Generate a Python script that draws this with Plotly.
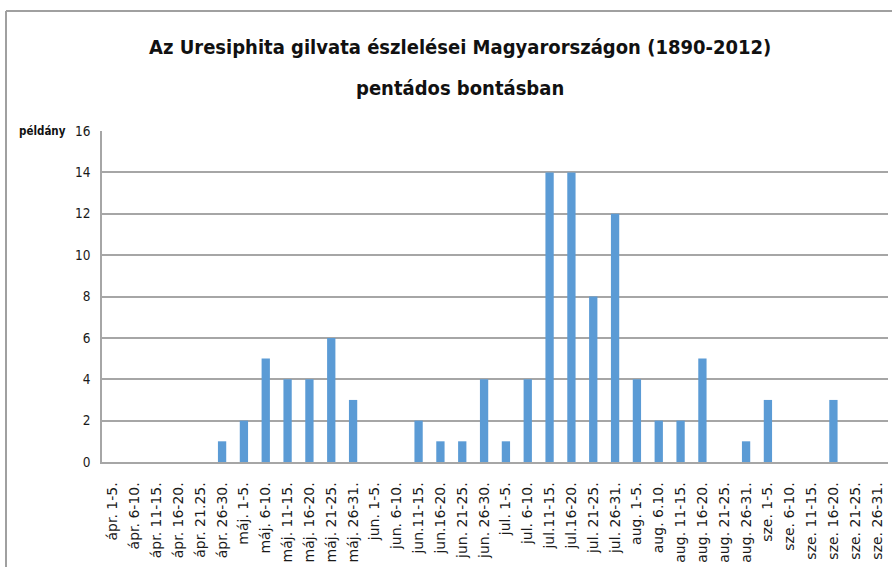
import plotly.graph_objects as go

categories = [
    "ápr. 1-5.", "ápr. 6-10.", "ápr. 11-15.", "ápr. 16-20.", "ápr. 21.25.", "ápr. 26-30.",
    "máj. 1-5.", "máj. 6-10.", "máj. 11-15.", "máj. 16-20.", "máj. 21-25.", "máj. 26-31.",
    "jun. 1-5.", "jun. 6-10.", "jun.11-15.", "jun.16-20.", "jun. 21-25.", "jun. 26-30.",
    "jul. 1-5.", "jul. 6-10.", "jul.11-15.", "jul.16-20.", "jul. 21-25.", "jul. 26-31.",
    "aug. 1-5.", "aug. 6.10.", "aug. 11-15.", "aug. 16-20.", "aug. 21-25.", "aug. 26-31.",
    "sze. 1-5.", "sze. 6-10.", "sze. 11-15.", "sze. 16-20.", "sze. 21-25.", "sze. 26-31.",
]
counts = [
    0, 0, 0, 0, 0, 1,
    2, 5, 4, 4, 6, 3,
    0, 0, 2, 1, 1, 4,
    1, 4, 14, 14, 8, 12,
    4, 2, 2, 5, 0, 1,
    3, 0, 0, 3, 0, 0,
]
y_ticks = [0, 2, 4, 6, 8, 10, 12, 14, 16]

title_line1 = "Az Uresiphita gilvata észlelései Magyarországon (1890-2012)"
title_line2 = "pentádos bontásban"
y_label = "példány"

COND = "DejaVu Sans Condensed, Liberation Sans, sans-serif"

fig = go.Figure(go.Bar(
    x=categories, y=counts,
    marker=dict(color="#5B9BD5", line=dict(width=0)),
))

fig.update_layout(
    width=892, height=567,
    paper_bgcolor="white", plot_bgcolor="white",
    margin=dict(l=102, r=4, t=131, b=105, autoexpand=False),
    bargap=0.62,
    showlegend=False,
    font=dict(family="Liberation Sans, Arial, sans-serif", color="#222222"),
    xaxis=dict(
        type="category", tickangle=-90,
        tickfont=dict(size=14, family="DejaVu Sans, Verdana, sans-serif", color="#1a1a1a"),
        showline=True, linecolor="#a6a6a6", linewidth=1.5, showgrid=False, ticks="",
        ticklabelstandoff=13,
        range=[-0.5, len(categories) - 0.5],
    ),
    yaxis=dict(
        range=[0, 16], tickvals=y_ticks,
        tickfont=dict(size=13.5, family=COND, color="#1a1a1a"),
        showgrid=True, gridcolor="#a6a6a6", gridwidth=1.5,
        showline=True, linecolor="#a6a6a6", linewidth=1.5, ticks="", ticklabelstandoff=7,
        zeroline=False,
    ),
    annotations=[
        dict(text=f"<b>{title_line1}</b>", xref="paper", yref="paper", x=0.455, y=1 + (131 - 47) / 331,
             xanchor="center", yanchor="middle", showarrow=False,
             font=dict(size=20, family=COND, color="#111111")),
        dict(text=f"<b>{title_line2}</b>", xref="paper", yref="paper", x=0.455, y=1 + (131 - 88) / 331,
             xanchor="center", yanchor="middle", showarrow=False,
             font=dict(size=20, family=COND, color="#111111")),
        dict(text=f"<b>{y_label}</b>", xref="paper", yref="paper", x=(68 - 102) / 786, y=1.0,
             xanchor="right", yanchor="middle", showarrow=False,
             font=dict(size=11.5, family=COND, color="#111111")),
    ],
    shapes=[
        dict(type="line", xref="paper", yref="paper", x0=(6 - 102) / 786, x1=1.01,
             y0=1 + (131 - 11) / 331, y1=1 + (131 - 11) / 331,
             line=dict(color="#a0a0a0", width=2)),
        dict(type="line", xref="paper", yref="paper", x0=(6 - 102) / 786, x1=(6 - 102) / 786,
             y0=1 + (131 - 11) / 331, y1=-0.5,
             line=dict(color="#a0a0a0", width=2)),
    ],
)

fig.write_html("out.html", config={"displayModeBar": False},
               post_script="document.body.style.margin='0';document.body.style.padding='0';")
